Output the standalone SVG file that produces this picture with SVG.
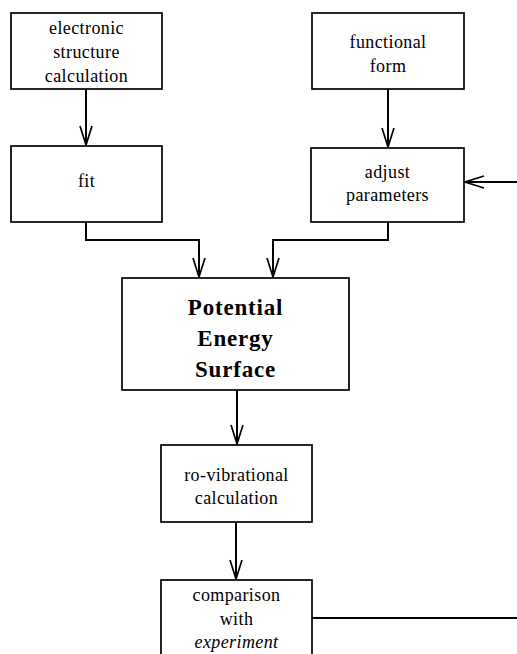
<svg xmlns="http://www.w3.org/2000/svg" width="517" height="654" viewBox="0 0 517 654">
<style>
.box{fill:#fff;stroke:#000;stroke-width:1.7}
.t{font-family:"Liberation Serif","Times New Roman",serif;font-size:18px;letter-spacing:0.4px;text-anchor:middle;fill:#000}
.b{font-family:"Liberation Serif","Times New Roman",serif;font-size:23px;font-weight:bold;letter-spacing:0.8px;text-anchor:middle;fill:#000}
.c{fill:none;stroke:#000;stroke-width:2}
</style>
<defs>
<marker id="ah" markerUnits="userSpaceOnUse" markerWidth="24" markerHeight="16" viewBox="-20 -8 24 16" refX="0" refY="0" orient="auto">
<path d="M-19,-6 L0,0 L-19,6" fill="none" stroke="#000" stroke-width="1.7"/>
</marker>
</defs>
<rect width="517" height="654" fill="#fff"/>
<g id="connectors">
<path class="c" d="M86,89 V145" marker-end="url(#ah)"/>
<path class="c" d="M388,89 V147" marker-end="url(#ah)"/>
<path class="c" d="M517,182 H465" marker-end="url(#ah)"/>
<path class="c" d="M86,222 V240 H199 V277" marker-end="url(#ah)"/>
<path class="c" d="M388,222 V240 H273 V277" marker-end="url(#ah)"/>
<path class="c" d="M237,390 V444" marker-end="url(#ah)"/>
<path class="c" d="M236,522 V579" marker-end="url(#ah)"/>
<path class="c" d="M312,618 H517"/>
</g>
<g id="electronic">
<rect class="box" x="11" y="13" width="151" height="76"/>
<text class="t" x="86.5" y="34">electronic</text>
<text class="t" x="86.5" y="58">structure</text>
<text class="t" x="86.5" y="82">calculation</text>
</g>
<g id="fit">
<rect class="box" x="11" y="146" width="151" height="76"/>
<text class="t" x="86.5" y="187">fit</text>
</g>
<g id="functional">
<rect class="box" x="312" y="13" width="152" height="76"/>
<text class="t" x="388" y="48">functional</text>
<text class="t" x="388" y="72">form</text>
</g>
<g id="adjust">
<rect class="box" x="311" y="148" width="153" height="74"/>
<text class="t" x="387.5" y="178">adjust</text>
<text class="t" x="387.5" y="201">parameters</text>
</g>
<g id="pes">
<rect class="box" x="122" y="278" width="227" height="112"/>
<text class="b" x="235.5" y="315">Potential</text>
<text class="b" x="235.5" y="346">Energy</text>
<text class="b" x="235.5" y="377">Surface</text>
</g>
<g id="rovib">
<rect class="box" x="161" y="445" width="151" height="77"/>
<text class="t" x="236.5" y="481">ro-vibrational</text>
<text class="t" x="236.5" y="504">calculation</text>
</g>
<g id="comparison">
<rect class="box" x="161" y="580" width="151" height="84"/>
<text class="t" x="236.5" y="601">comparison</text>
<text class="t" x="236.5" y="625">with</text>
<text class="t" x="236.5" y="648" font-style="italic">experiment</text>
</g>
</svg>
